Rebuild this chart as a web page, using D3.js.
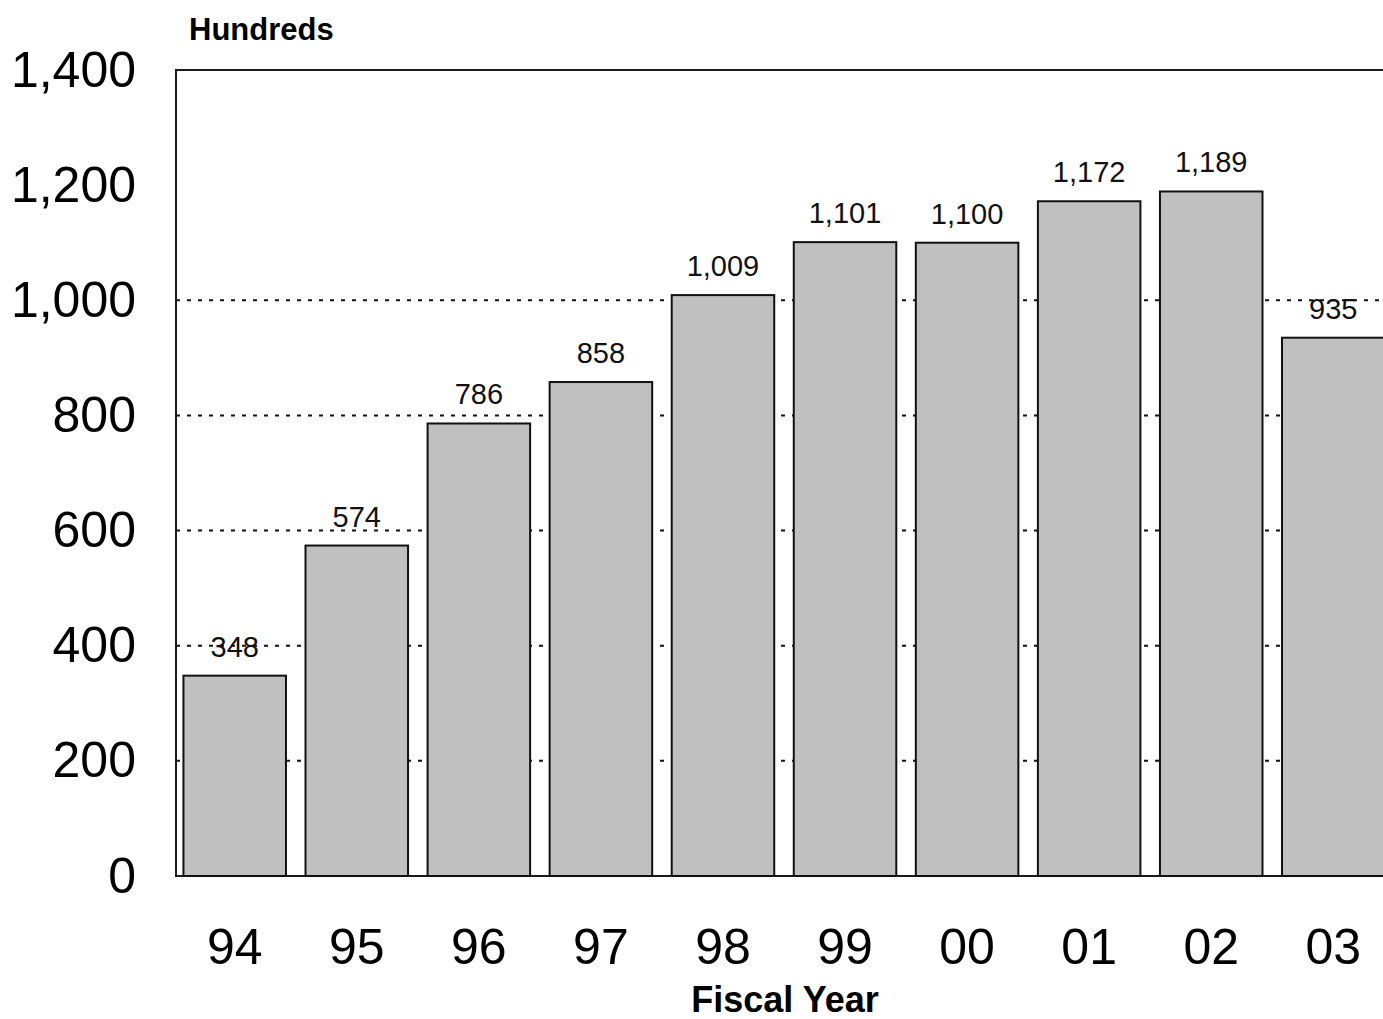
<!DOCTYPE html>
<html><head><meta charset="utf-8">
<script src="https://cdn.jsdelivr.net/npm/d3@7/dist/d3.min.js"></script>
<style>body{margin:0;background:#fff}svg{display:block}</style>
</head><body>
<script>
const categories = ["94","95","96","97","98","99","00","01","02","03"];
const values = [348,574,786,858,1009,1101,1100,1172,1189,935];
const yTicks = [0,200,400,600,800,1000,1200,1400];
const gridValues = [200,400,600,800,1000];

const W = 1383, H = 1019;
const svg = d3.select("body").append("svg").attr("width", W).attr("height", H);
const x = d3.scaleBand().domain(categories).range([176, 1392]).paddingInner(0.16).paddingOuter(0.061);
const y = d3.scaleLinear().domain([0, 1400]).range([876, 70]);
const fmt = d3.format(",");

// gridlines
svg.append("g").selectAll("line").data(gridValues).join("line")
  .attr("x1", 176).attr("x2", 1392).attr("y1", d => y(d)).attr("y2", d => y(d))
  .attr("stroke", "#111").attr("stroke-width", 2).attr("stroke-dasharray", "4,7");

// frame
svg.append("path").attr("d", `M176,${y(0)}V${y(1400)}H1392V${y(0)}Z`)
  .attr("fill", "none").attr("stroke", "#1a1a1a").attr("stroke-width", 2);

// bars
svg.append("g").selectAll("rect").data(values).join("rect")
  .attr("x", (d, i) => x(categories[i])).attr("width", x.bandwidth())
  .attr("y", d => y(d)).attr("height", d => y(0) - y(d))
  .attr("fill", "#c0c0c0").attr("stroke", "#111").attr("stroke-width", 2);

// value labels
svg.append("g").selectAll("text").data(values).join("text")
  .attr("x", (d, i) => x(categories[i]) + x.bandwidth() / 2)
  .attr("y", d => y(d) - 19)
  .attr("text-anchor", "middle")
  .attr("font-family", "Liberation Sans, Arial, sans-serif")
  .attr("font-size", 29).attr("fill", "#111")
  .text(d => fmt(d));

// y axis labels
const yAxis = d3.axisLeft(y).tickValues(yTicks).tickFormat(fmt).tickSize(0).tickPadding(40);
const gy = svg.append("g").attr("transform", "translate(176,0)").call(yAxis);
gy.select(".domain").remove();
gy.selectAll("text").attr("font-family", "Liberation Sans, Arial, sans-serif")
  .attr("font-size", 50).attr("fill", "#000");

// x axis labels
const xAxis = d3.axisBottom(x).tickSize(0).tickPadding(52);
const gx = svg.append("g").attr("transform", `translate(0,${y(0)})`).call(xAxis);
gx.select(".domain").remove();
gx.selectAll("text").attr("font-family", "Liberation Sans, Arial, sans-serif")
  .attr("font-size", 50).attr("fill", "#000");

svg.append("text").attr("x", 189).attr("y", 40)
  .attr("font-family", "Liberation Sans, Arial, sans-serif").attr("font-weight", "bold")
  .attr("font-size", 31).attr("fill", "#000").text("Hundreds");

svg.append("text").attr("x", 785).attr("y", 1012).attr("text-anchor", "middle")
  .attr("font-family", "Liberation Sans, Arial, sans-serif").attr("font-weight", "bold")
  .attr("font-size", 36).attr("fill", "#000").text("Fiscal Year");
</script>
</body></html>
